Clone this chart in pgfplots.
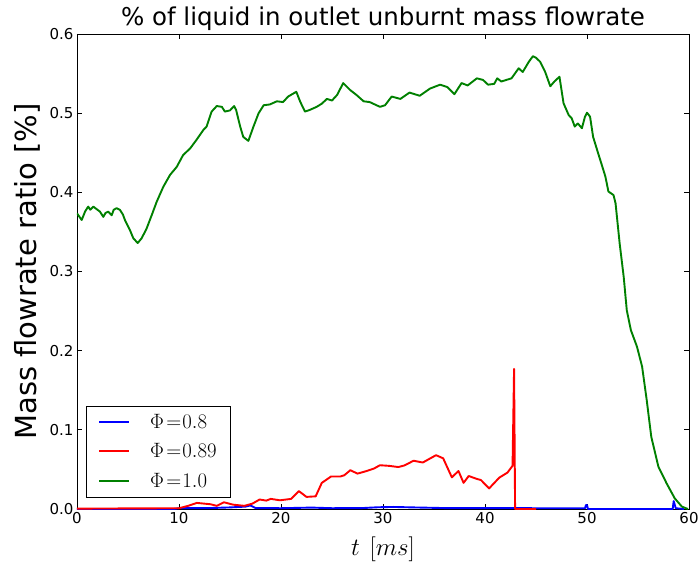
\documentclass[border=0pt]{standalone}
\usepackage{fontspec}
\setmainfont{DejaVu Sans}
\usepackage{pgfplots}
\pgfplotsset{compat=1.18}
\definecolor{mplblue}{RGB}{0,0,255}
\definecolor{mplred}{RGB}{255,0,0}
\definecolor{mplgreen}{RGB}{0,128,0}
\begin{document}
\begin{tikzpicture}
\begin{axis}[
  name=ax,
  scale only axis,
  width=612pt, height=475pt,
  xmin=0, xmax=60, ymin=0, ymax=0.6,
  xtick={0,10,20,30,40,50,60},
  ytick={0,0.1,0.2,0.3,0.4,0.5,0.6},
  yticklabel style={/pgf/number format/.cd,fixed,fixed zerofill,precision=1},
  /pgf/number format/assume math mode=true,
  tick label style={font=\fontsize{15}{17}\selectfont},
  tick align=inside,
  major tick length=5pt,
  axis line style={line width=0.9pt},
  every tick/.style={black, line width=0.8pt},
  title={\% of liquid in outlet unburnt mass flowrate},
  title style={font=\fontsize{24.5}{26}\selectfont, yshift=-6pt},
  xlabel={$t\ [ms]$},
  xlabel style={font=\fontsize{30}{32}\selectfont, yshift=-6pt},
  ylabel={Mass flowrate ratio [\%]},
  ylabel style={font=\fontsize{29}{31}\selectfont, yshift=2pt},
  legend style={at={(rel axis cs:0.0147,0.025)}, anchor=south west,
    draw=black, font=\fontsize{20}{22}\selectfont,
    inner xsep=12pt, inner ysep=6pt, row sep=10pt, cells={anchor=west},
    /tikz/every odd column/.append style={column sep=18pt}},
  legend image code/.code={\draw[#1,line width=2pt] (0pt,0pt) -- (30pt,0pt);},
  legend cell align=left,
  every axis plot/.append style={line width=1.9pt, line join=round},
]
\addplot[color=mplblue] coordinates {
(0,0) (9.5,0) (10,0.001) (13,0.0012) (15,0.002) (16.5,0.003) (17,0.0045) (17.5,0.0012) (20,0.001) (23,0.0018) (25,0.001) (28,0.0012) (29.5,0.0022) (31,0.0026) (33,0.002) (36,0.0012) (40,0.0012) (45,0.001) (49.8,0.001) (49.9,0.005) (50,0.005) (50.1,0) (58.4,0) (58.5,0.01) (58.7,0.001) (59.5,0)
};
\addlegendentry{$\Phi\mkern2mu{=}\mkern1mu0.8$}
\addplot[color=mplred] coordinates {
(0,0.0005) (10,0.001) (10.9,0.004) (11.75,0.0077) (13.1,0.006) (13.7,0.004) (14.4,0.0085) (15.3,0.0055) (16.4,0.004) (17.2,0.0068) (17.9,0.012) (18.55,0.0106) (19.0,0.0128) (19.9,0.011) (21.0,0.0128) (21.75,0.0226) (22.5,0.0153) (23.4,0.016) (24.0,0.033) (24.9,0.041) (25.8,0.041) (26.2,0.0426) (26.8,0.049) (27.5,0.0447) (28.4,0.048) (29.1,0.051) (29.7,0.0553) (30.6,0.0545) (31.5,0.053) (32.1,0.055) (33.0,0.061) (33.9,0.0587) (35.2,0.068) (35.9,0.064) (36.75,0.040) (37.4,0.048) (37.9,0.033) (38.4,0.0417) (39.2,0.038) (39.6,0.0366) (40.4,0.026) (41.4,0.0396) (42.2,0.046) (42.7,0.0545) (42.85,0.177) (42.95,0) (45,0)
};
\addlegendentry{$\Phi\mkern2mu{=}\mkern1mu0.89$}
\addplot[color=mplgreen] coordinates {
(0,0.3735) (0.46,0.365) (0.8,0.376) (1.1,0.382) (1.3,0.378) (1.6,0.382) (1.9,0.379) (2.25,0.3756) (2.58,0.369) (2.8,0.374) (3.07,0.3756) (3.4,0.371) (3.6,0.378) (3.89,0.380) (4.2,0.378) (4.5,0.372) (4.7,0.365) (5.2,0.352) (5.52,0.342) (5.95,0.336) (6.34,0.342) (6.83,0.3545) (7.32,0.371) (7.81,0.388) (8.46,0.407) (9.12,0.422) (9.77,0.432) (10.4,0.447) (11.1,0.4556) (11.7,0.466) (12.4,0.479) (12.7,0.483) (13.2,0.502) (13.7,0.509) (14.2,0.508) (14.5,0.502) (15.0,0.5035) (15.4,0.509) (15.6,0.504) (16.0,0.483) (16.3,0.470) (16.8,0.465) (17.3,0.483) (17.8,0.4998) (18.3,0.510) (18.9,0.511) (19.6,0.515) (20.2,0.514) (20.7,0.521) (21.5,0.527) (21.9,0.514) (22.35,0.502) (22.8,0.504) (23.5,0.508) (24.0,0.512) (24.5,0.518) (25.0,0.516) (25.5,0.523) (26.1,0.538) (26.8,0.529) (27.4,0.523) (28.1,0.515) (28.7,0.514) (29.7,0.508) (30.2,0.510) (30.85,0.521) (31.7,0.518) (32.6,0.526) (33.6,0.522) (34.6,0.531) (35.6,0.536) (36.3,0.533) (37.0,0.524) (37.7,0.538) (38.3,0.535) (39.2,0.544) (39.8,0.542) (40.3,0.536) (40.9,0.537) (41.2,0.544) (41.6,0.540) (42.6,0.544) (43.3,0.5567) (43.7,0.552) (44.3,0.565) (44.7,0.572) (45.0,0.570) (45.4,0.565) (45.9,0.552) (46.4,0.534) (46.8,0.540) (47.3,0.546) (47.7,0.5125) (48.2,0.4977) (48.5,0.4935) (48.8,0.483) (49.1,0.487) (49.5,0.481) (49.8,0.4955) (50.0,0.5006) (50.3,0.4955) (50.6,0.470) (51.1,0.449) (51.4,0.4367) (51.8,0.420) (52.1,0.401) (52.6,0.3966) (52.8,0.386) (53.2,0.3356) (53.6,0.293) (53.9,0.251) (54.3,0.226) (54.9,0.205) (55.4,0.180) (55.85,0.138) (56.3,0.0913) (57.0,0.0534) (57.8,0.0325) (58.6,0.0135) (59.3,0.003) (59.9,0.0)
};
\addlegendentry{$\Phi\mkern2mu{=}\mkern1mu1.0$}
\end{axis}
\pgfresetboundingbox
\path ([xshift=-77pt,yshift=-58pt]ax.south west) rectangle ([xshift=10pt,yshift=34pt]ax.north east);
\end{tikzpicture}
\end{document}
